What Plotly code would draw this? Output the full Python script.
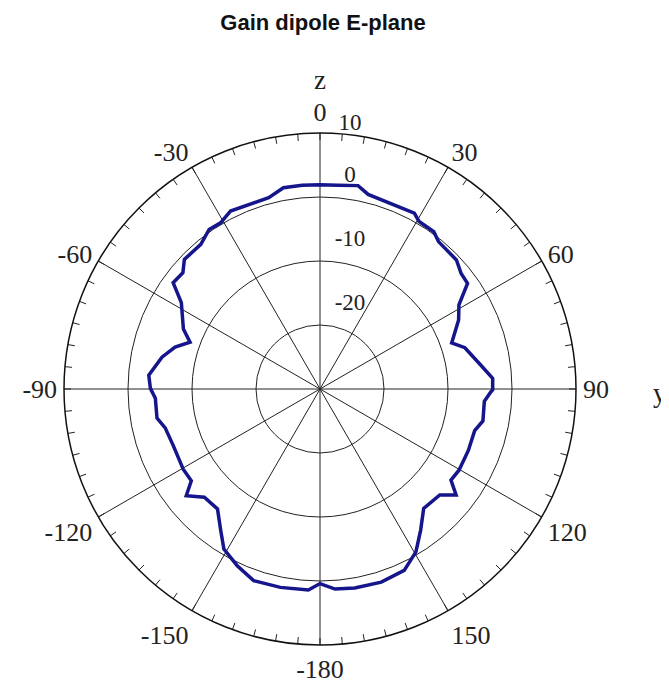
import math
import plotly.graph_objects as go

# ---- data ----
theta_deg = [0, 5, 10.6, 13.9, 28.2, 30.6, 35.9, 38.8, 46.6, 50.7, 54.4, 58.8, 63.5,
             70.7, 74.1, 81.7, 86.5, 90.3, 90.9, 94.3, 101.1, 105.1, 112.5, 120.3,
             124.8, 127.9, 131.5, 139, 144.5, 149.5, 155.1, 162.4, 170.1, 175.7, 180,
             -176.7, -168.7, -160.9, -154.9, -149, -145, -139.5, -133.1, -128.6,
             -125.5, -120.4, -111.3, -104.1, -100.1, -93.2, -89.8, -85.4, -78.6,
             -73.9, -70.2, -66.3, -58.1, -54.1, -49.7, -46.3, -39.5, -34.8, -30.9,
             -26.7, -15, -10.3, -5, 0]
gain_db = [1.9, 1.95, 2.33, 1.32, 1.18, 0.41, 0.33, -0.45, -0.66, -1.5, -1.65, -4.62, -5.8,
           -8.2, -6.46, -4.56, -2.97, -3.02, -3.28, -4.25, -4.06, -4.97, -4.91, -4.85,
           -5.08, -3.05, -5.01, -5.3, -2.92, -0.47, 1.25, 1.66, 1.55, 1.35, 0.4,
           1.46, 1.61, 1.69, 0.49, -0.84, -2.97, -5.34, -5.24, -3.26,
           -5.3, -5.22, -5.43, -5.06, -4.13, -4.23, -3.5, -3.16, -4.81,
           -6.43, -8.42, -6.69, -4.48, -1.67, -1.91, -0.69, -0.72, 0.36, 0.26,
           1.12, 0.96, 1.97, 1.95, 1.9]

angle_ticks = [0, 30, 60, 90, 120, 150, 180, 210, 240, 270, 300, 330]
angle_labels = ["0", "30", "60", "90", "120", "150", "-180", "-150", "-120", "-90", "-60", "-30"]
radial_ticks = [-20, -10, 0, 10]
radial_labels = ["-20", "-10", "0", "10"]
r_min, r_max = -30, 10
minor_step = 5

# ---- figure ----
W, H = 669, 684
cx, cy, R = 312, 381, 256   # page has an 8px body margin
px_per_db = R / (r_max - r_min)

fig = go.Figure()

# minor tick marks on the outer circle
tick_theta, tick_r = [], []
for a in range(0, 360, minor_step):
    tick_theta += [a, a, None]
    tick_r += [r_max, r_max - 1.1, None]
fig.add_trace(go.Scatterpolar(r=tick_r, theta=tick_theta, mode="lines",
                              line=dict(color="#222222", width=1),
                              hoverinfo="skip", showlegend=False))

# gain curve
fig.add_trace(go.Scatterpolar(r=gain_db, theta=theta_deg, mode="lines",
                              line=dict(color="#15158c", width=3.5),
                              showlegend=False))

# radial tick labels: a column just right of the 0-degree line, above each ring
label_dx, label_dy = 30, 9   # style offsets in pixels
lab_r, lab_th = [], []
for t in radial_ticks:
    y_px = min((t - r_min) * px_per_db + label_dy, math.sqrt(R ** 2 - label_dx ** 2) - 0.5)
    lab_r.append(math.hypot(label_dx, y_px) / px_per_db + r_min)
    lab_th.append(math.degrees(math.atan2(label_dx, y_px)))
fig.add_trace(go.Scatterpolar(r=lab_r, theta=lab_th, mode="text",
                              text=radial_labels, textposition="top center",
                              textfont=dict(family="Liberation Serif", size=23, color="#222222"),
                              cliponaxis=False, hoverinfo="skip", showlegend=False))

fig.update_layout(
    width=W, height=H,
    margin=dict(l=0, r=0, t=0, b=0),
    paper_bgcolor="white",
    title=dict(text="<b>Gain dipole E-plane</b>", x=315 / W, xanchor="center",
               y=1 - 14 / H, yanchor="middle", yref="container",
               font=dict(family="Liberation Sans", size=22, color="#111111")),
    polar=dict(
        domain=dict(x=[(cx - R) / W, (cx + R) / W],
                    y=[(H - cy - R) / H, (H - cy + R) / H]),
        bgcolor="white",
        angularaxis=dict(rotation=90, direction="clockwise",
                         tickmode="array", tickvals=angle_ticks, ticktext=angle_labels,
                         ticks="outside", ticklen=1, tickcolor="rgba(0,0,0,0)",
                         showline=True, linecolor="#111111", linewidth=1.5,
                         showgrid=True, gridcolor="#222222", gridwidth=1,
                         tickfont=dict(family="Liberation Serif", size=26, color="#222222")),
        radialaxis=dict(range=[r_min, r_max], tickmode="array", tickvals=radial_ticks,
                        showticklabels=False, ticks="", showline=False,
                        showgrid=True, gridcolor="#222222", gridwidth=1),
    ),
    annotations=[
        dict(text="z", x=312 / W, y=1 - 72 / H, xref="paper", yref="paper",
             xanchor="center", yanchor="middle",
             showarrow=False, font=dict(family="Liberation Serif", size=27, color="#222222")),
        dict(text="y", x=652 / W, y=1 - 385 / H, xref="paper", yref="paper",
             xanchor="center", yanchor="middle",
             showarrow=False, font=dict(family="Liberation Serif", size=27, color="#222222")),
    ],
)

fig.write_html("out.html")
